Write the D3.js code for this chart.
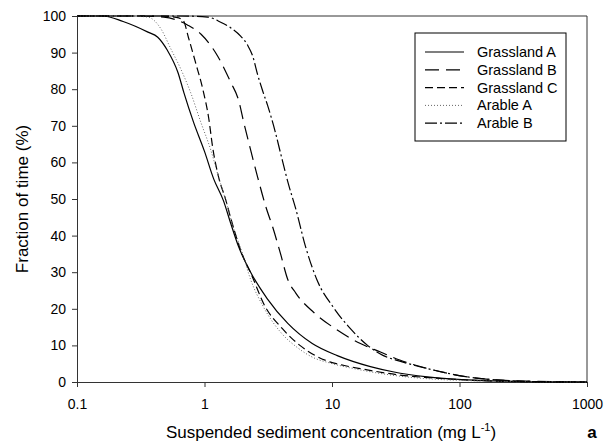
<!DOCTYPE html>
<html>
<head>
<meta charset="utf-8">
<script src="https://cdn.jsdelivr.net/npm/d3@7"></script>
<style>
	body { margin: 0; background: #fff; }
	text { font-family: "Liberation Sans", Arial, sans-serif; fill: #000; }
</style>
</head>
<body>
<div id="chart"></div>
<script>
// values (concentration in mg/L, fraction of time in %)
var grassA_conc = [0.1, 0.16, 0.23, 0.36, 0.43, 0.51, 0.62, 0.69, 0.82, 1.0, 1.18, 1.41, 1.6, 1.85, 2.3, 3.1, 4.5, 7, 11, 20, 30, 56, 115, 250, 500, 1000];
var grassA_pct  = [100, 100, 98.5, 95.6, 94.2, 90.7, 84.5, 79, 71, 63, 55.5, 49.5, 43.5, 37, 30, 22.8, 16, 10.5, 7.2, 4.2, 2.8, 1.4, 0.6, 0.2, 0, 0];

var grassB_conc = [0.1, 0.3, 0.48, 0.74, 0.94, 1.27, 1.6, 1.85, 2.03, 2.3, 2.61, 3.02, 3.45, 3.95, 4.5, 5.2, 7.2, 11, 16.7, 24, 34, 62, 115, 210, 400, 1000];
var grassB_pct  = [100, 100, 99.7, 97.5, 95, 89, 82, 77, 71, 63.4, 56, 48, 42, 35, 28, 24.3, 19, 14.2, 10.5, 8.2, 6, 3.3, 1.4, 0.5, 0.2, 0];

var grassC_conc = [0.1, 0.45, 0.6, 0.68, 0.75, 0.855, 0.97, 1.08, 1.16, 1.29, 1.47, 1.6, 1.92, 2.39, 2.9, 4.1, 5.6, 7.4, 9.6, 12.5, 17, 34, 62, 120, 300, 1000];
var grassC_pct  = [100, 100, 99.6, 98.8, 94, 87, 80, 72, 64, 56, 49.7, 45, 36, 28.5, 21.5, 14.5, 10, 7.2, 5.5, 4.5, 3.6, 1.9, 1.1, 0.5, 0.1, 0];

var arableA_conc = [0.1, 0.26, 0.36, 0.455, 0.545, 0.652, 0.78, 0.935, 1.12, 1.29, 1.47, 1.66, 1.99, 2.3, 2.9, 4.0, 5.4, 7.2, 9.6, 16.7, 34, 62, 210, 1000];
var arableA_pct  = [100, 100, 99.7, 96.5, 91, 85.5, 79, 71, 63.4, 56, 49.5, 43, 35, 28, 20.5, 13.4, 9.3, 6.6, 5.2, 3.3, 1.6, 0.8, 0.2, 0];

var arableB_conc = [0.1, 0.65, 1.06, 1.34, 1.6, 1.92, 2.18, 2.39, 2.61, 2.86, 3.13, 3.61, 3.95, 4.56, 5.18, 6.2, 7.6, 10.3, 14, 19, 25.3, 34, 62, 115, 210, 430, 1000];
var arableB_pct  = [100, 100, 99.7, 98.3, 96.8, 94.5, 92, 89, 84, 79.5, 75.5, 68, 62.5, 54, 47.5, 37, 28, 20.3, 14.5, 10, 7.2, 5.7, 3.3, 1.4, 0.5, 0.1, 0];

var seriesNames = ["Grassland A", "Grassland B", "Grassland C", "Arable A", "Arable B"];
var xTicks = [0.1, 1, 10, 100, 1000];
var yTicks = [0, 10, 20, 30, 40, 50, 60, 70, 80, 90, 100];

var width = 604;
var height = 445;
// plot box (named so they don't clash with window.top)
var plotLeft = 77, plotRight = 587, plotTop = 16, plotBottom = 382;

var svg = d3.select("#chart").append("svg")
	.attr("width", width)
	.attr("height", height);

var x = d3.scaleLog().domain([0.1, 1000]).range([plotLeft, plotRight]);
var y = d3.scaleLinear().domain([0, 100]).range([plotBottom, plotTop]);

// line styles for each series
var styles = [
	{stroke: "#000", dash: null, w: 1.2},
	{stroke: "#000", dash: "14,7", w: 1.2},
	{stroke: "#000", dash: "8,4", w: 1.2},
	{stroke: "#666", dash: "1,2", w: 1},
	{stroke: "#000", dash: "12,3,2,3", w: 1.2}
];

var allConc = [grassA_conc, grassB_conc, grassC_conc, arableA_conc, arableB_conc];
var allPct = [grassA_pct, grassB_pct, grassC_pct, arableA_pct, arableB_pct];

var series = seriesNames.map(function(name, i) {
	return {
		name: name,
		style: styles[i],
		points: allConc[i].map(function(c, j) { return {c: c, p: allPct[i][j]}; })
	};
});

// axes
var yAxis = d3.axisLeft(y).tickValues(yTicks).tickSize(5).tickSizeOuter(0).tickPadding(6);
var xAxis = d3.axisBottom(x).tickValues(xTicks).tickSize(5).tickSizeOuter(0).tickPadding(12)
	.tickFormat(function(d) { return String(d); });

var gy = svg.append("g").attr("transform", "translate(" + plotLeft + ",0)").call(yAxis);
var gx = svg.append("g").attr("transform", "translate(0," + plotBottom + ")").call(xAxis);

[gx, gy].forEach(function(g) {
	g.selectAll("text").style("font-size", "14px").style("font-family", "Liberation Sans, Arial, sans-serif").attr("fill", "#000");
	g.selectAll("line").attr("stroke", "#333");
	g.select(".domain").attr("stroke", "#333");
});

// top and right frame lines
svg.append("line").attr("x1", plotLeft).attr("x2", plotRight).attr("y1", plotTop).attr("y2", plotTop).attr("stroke", "#333");
svg.append("line").attr("x1", plotRight).attr("x2", plotRight).attr("y1", plotTop).attr("y2", plotBottom).attr("stroke", "#333");

var line = d3.line()
	.x(function(d) { return x(d.c); })
	.y(function(d) { return y(d.p); })
	.curve(d3.curveMonotoneX);

svg.append("g").selectAll("path")
	.data(series)
	.enter().append("path")
	.attr("d", function(d) { return line(d.points); })
	.attr("fill", "none")
	.attr("stroke", function(d) { return d.style.stroke; })
	.attr("stroke-width", function(d) { return d.style.w; })
	.attr("stroke-dasharray", function(d) { return d.style.dash; });

// legend
var legend = svg.append("g");
legend.append("rect")
	.attr("x", 415).attr("y", 33)
	.attr("width", 151).attr("height", 108)
	.attr("fill", "#fff").attr("stroke", "#000");

var rows = legend.selectAll("g.row")
	.data(series)
	.enter().append("g")
	.attr("class", "row")
	.attr("transform", function(d, i) { return "translate(0," + (52 + i * 17.8) + ")"; });

rows.append("line")
	.attr("x1", 425).attr("x2", 464)
	.attr("y1", 0).attr("y2", 0)
	.attr("stroke", function(d) { return d.style.stroke; })
	.attr("stroke-width", function(d) { return d.style.w; })
	.attr("stroke-dasharray", function(d) { return d.style.dash; });

rows.append("text")
	.attr("x", 477).attr("y", 0).attr("dy", "0.35em")
	.style("font-size", "14.5px")
	.text(function(d) { return d.name; });

// axis titles
svg.append("text")
	.attr("transform", "translate(28,199) rotate(-90)")
	.attr("text-anchor", "middle")
	.style("font-size", "17px")
	.text("Fraction of time (%)");

var xt = svg.append("text")
	.attr("x", 331).attr("y", 438)
	.attr("text-anchor", "middle")
	.style("font-size", "17px");
xt.append("tspan").text("Suspended sediment concentration (mg L");
xt.append("tspan").attr("dy", -7).style("font-size", "11px").text("-1");
xt.append("tspan").attr("dy", 7).text(")");

svg.append("text")
	.attr("x", 592).attr("y", 438)
	.attr("text-anchor", "middle")
	.style("font-size", "17px")
	.style("font-weight", "bold")
	.text("a");
</script>
</body>
</html>
